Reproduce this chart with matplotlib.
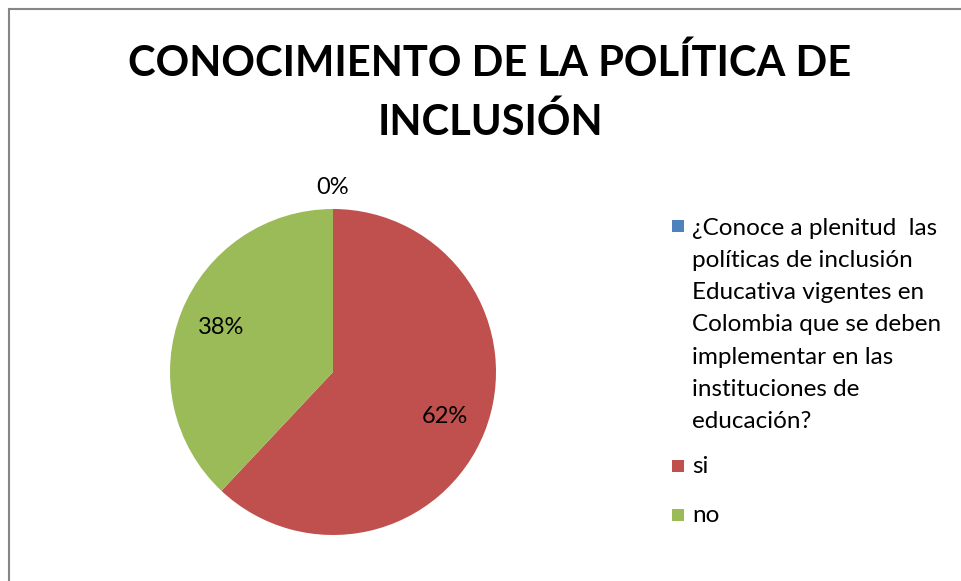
import matplotlib.pyplot as plt
from matplotlib.lines import Line2D
from matplotlib.patches import Rectangle

# datos
categorias = ["¿Conoce a plenitud  las\npolíticas de inclusión\nEducativa vigentes en\nColombia que se deben\nimplementar en las\ninstituciones de\neducación?", "si", "no"]
valores = [0, 62, 38]
colores = ["#4F81BD", "#C0504D", "#9BBB59"]
titulo = "CONOCIMIENTO DE LA POLÍTICA DE\nINCLUSIÓN"

plt.rcParams["font.family"] = ["Lato", "DejaVu Sans"]

W, H = 961, 581
fig = plt.figure(figsize=(W / 100, H / 100), dpi=100)
ax = fig.add_axes([0, 0, 1, 1])

cx, cy, r = 333, H - 372, 163
wedges, textos, pct = ax.pie(valores, colors=colores, startangle=90, counterclock=False,
                             center=(cx, cy), radius=r, autopct="%1.0f%%", pctdistance=0.74,
                             textprops={"fontsize": 17, "color": "black"},
                             wedgeprops={"linewidth": 0})
# etiqueta del 0% fuera del pastel
x0, y0 = pct[0].get_position()
pct[0].set_position((cx + (x0 - cx) * 1.13 / 0.74, cy + (y0 - cy) * 1.13 / 0.74))

ax.set_xlim(0, W)
ax.set_ylim(0, H)
ax.set_aspect("equal")
ax.axis("off")

# borde del grafico (solo se ven arriba e izquierda)
ax.add_line(Line2D([9, 9], [0, H - 9], color="#868686", lw=1.5))
ax.add_line(Line2D([9, W], [H - 9, H - 9], color="#868686", lw=1.5))

ax.text(490, H - 93, titulo, ha="center", va="center", fontsize=30, fontweight="bold",
        linespacing=1.6)

# leyenda a mano, el cuadro va con la primera linea
# (va="baseline" usa la ultima linea, por eso se suma el alto de las demas)
paso = 32.5
ys = [233, 473, 522]
for lab, col, y in zip(categorias, colores, ys):
    n = lab.count("\n")
    ax.add_patch(Rectangle((672, H - y + 1), 12, 12, color=col, lw=0))
    ax.text(692, H - y - n * paso, lab, ha="left", va="baseline", fontsize=17.5, linespacing=1.66)

fig.savefig("out.png", dpi=100)
